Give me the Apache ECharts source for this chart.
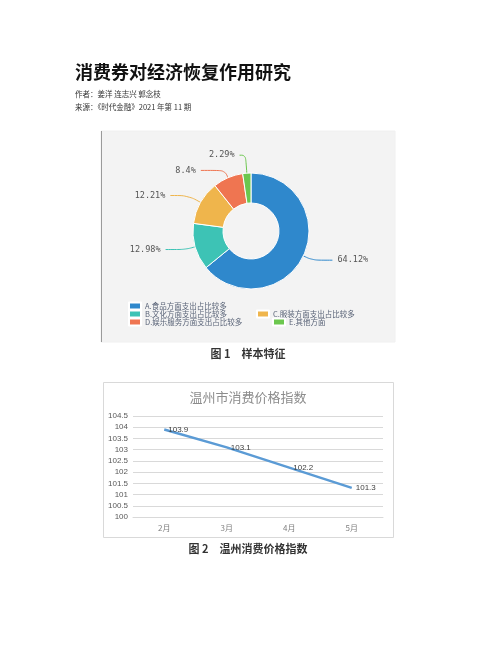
<!DOCTYPE html>
<html>
<head>
<meta charset="utf-8">
<script src="https://cdn.jsdelivr.net/npm/echarts@6/dist/echarts.min.js"></script>
<style>
html,body{margin:0;padding:0;background:#fff;}
#c{width:502px;height:649px;}
</style>
</head>
<body>
<div id="c"></div>
<script>
// ---- data ----
var pieNames = ['A.食品方面支出占比较多','B.文化方面支出占比较多','C.服装方面支出占比较多','D.娱乐服务方面支出占比较多','E.其他方面'];
var pieValues = [64.12, 12.98, 12.21, 8.4, 2.29];
var pieColors = ['#2f88cc','#3dc3b5','#efb54c','#ef7551','#6cc74e'];
var months = ['2月','3月','4月','5月'];
var cpiValues = [103.9, 103.1, 102.2, 101.3];

var CJK = '"Noto Sans CJK SC", "Noto Sans", sans-serif';
var chart = echarts.init(document.getElementById('c'));

// per-slice label line lengths (style only)
var lineLens = [[10,20],[10,20],[14,18],[8,24],[18,6]];

var pieData = pieNames.map(function(n,i){
  return {
    name:n, value:pieValues[i],
    itemStyle:{color:pieColors[i]},
    labelLine:{length:lineLens[i][0], length2:lineLens[i][1]}
  };
});

function legendAt(idx,left,top){
  return {
    data:[pieNames[idx]], left:left, top:top, orient:'horizontal',
    itemWidth:12, itemHeight:7, itemGap:4, padding:0,
    icon:'rect',
    textStyle:{fontSize:7.5, lineHeight:8, color:'#5a6478', fontFamily:CJK, padding:[0,0,0,-1]}
  };
}

var option = {
  animation:false,
  backgroundColor:'#ffffff',
  graphic:[
    {type:'rect', z:-10, shape:{x:101,y:131,width:294,height:211}, style:{fill:'#f3f3f3', stroke:'#f0f0f0'}},
    {type:'line', z:-9, shape:{x1:101.5,y1:131,x2:101.5,y2:342}, style:{stroke:'#9a9a9a', lineWidth:1}},
    {type:'rect', z:-10, shape:{x:103.5,y:382.5,width:290,height:155}, style:{fill:'#ffffff', stroke:'#d9d9d9', lineWidth:1}},
    {type:'text', x:75, y:72, style:{text:'消费券对经济恢复作用研究', font:'bold 18px '+CJK, fill:'#111', textVerticalAlign:'middle'}},
    {type:'text', x:75, y:94, style:{text:'作者：姜洋 连志兴 郭念枝', font:'7.5px '+CJK, fill:'#333', textVerticalAlign:'middle'}},
    {type:'text', x:75, y:107, style:{text:'来源：《时代金融》2021 年第 11 期', font:'7.5px '+CJK, fill:'#333', textVerticalAlign:'middle'}},
    {type:'text', x:248, y:354, style:{text:'图 1　样本特征', font:'bold 11px '+CJK, fill:'#333', textAlign:'center', textVerticalAlign:'middle'}},
    {type:'text', x:248, y:397, style:{text:'温州市消费价格指数', font:'13px '+CJK, fill:'#8c8c8c', textAlign:'center', textVerticalAlign:'middle'}},
    {type:'text', x:248, y:549, style:{text:'图 2　温州消费价格指数', font:'bold 11px '+CJK, fill:'#333', textAlign:'center', textVerticalAlign:'middle'}}
  ],
  legend:[
    legendAt(0,128,301.5),
    legendAt(1,128,309.5),
    legendAt(2,256,309.5),
    legendAt(3,128,317.5),
    legendAt(4,272,317.5)
  ],
  grid:{left:133, right:119, top:416, bottom:132, containLabel:false},
  xAxis:{
    type:'category', data:months, boundaryGap:true,
    axisLine:{show:true, lineStyle:{color:'#d9d9d9'}},
    axisTick:{show:false},
    axisLabel:{fontSize:8, color:'#7f7f7f', margin:7, fontFamily:CJK}
  },
  yAxis:{
    type:'value', min:100, max:104.5, interval:0.5,
    axisLine:{show:false}, axisTick:{show:false},
    splitLine:{lineStyle:{color:'#d9d9d9'}},
    axisLabel:{fontSize:8, color:'#595959', margin:5, fontFamily:'"Liberation Sans", sans-serif'}
  },
  series:[
    {
      type:'pie', center:[251,231], radius:[28,58],
      startAngle:90, clockwise:true,
      itemStyle:{borderColor:'#ffffff', borderWidth:1},
      label:{
        show:true, fontSize:8.5, color:'#555',
        fontFamily:'"DejaVu Sans Mono", monospace',
        formatter:function(p){return p.value+'%';}
      },
      labelLine:{smooth:0.4, lineStyle:{width:1}},
      data:pieData
    },
    {
      type:'line', data:cpiValues,
      symbol:'circle', symbolSize:0, showSymbol:true,
      lineStyle:{color:'#5b9bd5', width:2.5},
      itemStyle:{color:'#5b9bd5'},
      label:{show:true, position:'right', distance:4, fontSize:8, color:'#404040', fontFamily:'"Liberation Sans", sans-serif'}
    }
  ]
};
chart.setOption(option);
</script>
</body>
</html>
